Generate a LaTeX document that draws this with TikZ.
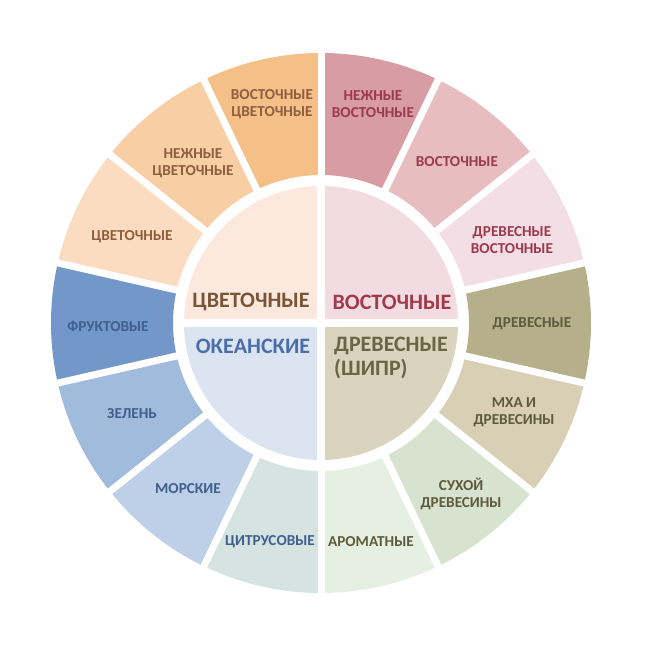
\documentclass[tikz,border=0pt]{standalone}
\usepackage{fontspec}
\setmainfont{Carlito}

\definecolor{segNvo}{HTML}{D89CA3}
\definecolor{segVo}{HTML}{E8BDC0}
\definecolor{segDvo}{HTML}{F3DEE6}
\definecolor{segDr}{HTML}{B5B08A}
\definecolor{segMdr}{HTML}{D8CFB5}
\definecolor{segSdr}{HTML}{D8E3CF}
\definecolor{segAr}{HTML}{E6F0E2}
\definecolor{segCi}{HTML}{D5E3E1}
\definecolor{segMo}{HTML}{BDD0E8}
\definecolor{segZe}{HTML}{A0BBDB}
\definecolor{segFr}{HTML}{7397C8}
\definecolor{segCv}{HTML}{FBDCC0}
\definecolor{segNcv}{HTML}{F8CEA5}
\definecolor{segVcv}{HTML}{F5BF88}
\definecolor{midCv}{HTML}{FCE8DC}
\definecolor{midVo}{HTML}{F2DCE2}
\definecolor{midOk}{HTML}{DCE4F2}
\definecolor{midDr}{HTML}{DAD3BD}
\definecolor{txtOrange}{HTML}{8E5E3E}
\definecolor{txtRose}{HTML}{9B3A4C}
\definecolor{txtOlive}{HTML}{5E5A3E}
\definecolor{txtBlue}{HTML}{3F5F8F}
\definecolor{txtMidCv}{HTML}{7A5535}
\definecolor{txtMidVo}{HTML}{A03A4C}
\definecolor{txtMidOk}{HTML}{4A6EA8}
\definecolor{txtMidDr}{HTML}{6B6448}

\begin{document}
\begin{tikzpicture}[x=1pt, y=1pt,
  gap/.style={draw=white, line width=7pt},
  outerlabel/.style={font=\fontsize{15.2}{17}\selectfont\bfseries, align=center, inner sep=0pt},
  innerlabel/.style={font=\fontsize{22}{24}\selectfont\bfseries, align=left, inner sep=0pt}
]
\useasboundingbox (-321,-327) rectangle (329,323);

\foreach \col [count=\i from 0] in {segNvo,segVo,segDvo,segDr,segMdr,segSdr,segAr,segCi,segMo,segZe,segFr,segCv,segNcv,segVcv}{
  \pgfmathsetmacro\aa{90-\i*360/14}
  \pgfmathsetmacro\ab{90-(\i+1)*360/14}
  \fill[\col] (\aa:148pt) arc[start angle=\aa, end angle=\ab, radius=148pt]
    -- (\ab:270pt) arc[start angle=\ab, end angle=\aa, radius=270pt] -- cycle;
}
\foreach \i in {0,...,13}
  \draw[gap] ({90-\i*360/14}:140pt) -- ({90-\i*360/14}:280pt);

\fill[midCv] (0,0) -- (90:137pt) arc[start angle=90, end angle=180, radius=137pt] -- cycle;
\fill[midVo] (0,0) -- (0:137pt) arc[start angle=0, end angle=90, radius=137pt] -- cycle;
\fill[midOk] (0,0) -- (180:137pt) arc[start angle=180, end angle=270, radius=137pt] -- cycle;
\fill[midDr] (0,0) -- (270:137pt) arc[start angle=270, end angle=360, radius=137pt] -- cycle;
\draw[gap, line width=8pt] (-140,0) -- (140,0);
\draw[gap, line width=8pt] (0,-140) -- (0,140);

\node[outerlabel, text=txtRose] (nvo) at (52,219) {НЕЖНЫЕ\\ВОСТОЧНЫЕ};
\node[outerlabel, text=txtRose] (vo) at (136,161) {ВОСТОЧНЫЕ};
\node[outerlabel, text=txtRose] (dvo) at (191,83) {ДРЕВЕСНЫЕ\\ВОСТОЧНЫЕ};
\node[outerlabel, text=txtOlive] (dr) at (211,-1) {ДРЕВЕСНЫЕ};
\node[outerlabel, text=txtOlive] (mdr) at (193,-89) {МХА И\\ДРЕВЕСИНЫ};
\node[outerlabel, text=txtOlive] (sdr) at (140,-171) {СУХОЙ\\ДРЕВЕСИНЫ};
\node[outerlabel, text=txtOlive] (ar) at (50,-219) {АРОМАТНЫЕ};
\node[outerlabel, text=txtBlue] (ci) at (-51,-219) {ЦИТРУСОВЫЕ};
\node[outerlabel, text=txtBlue] (mo) at (-133,-166) {МОРСКИЕ};
\node[outerlabel, text=txtBlue] (ze) at (-189,-91) {ЗЕЛЕНЬ};
\node[outerlabel, text=txtBlue] (fr) at (-213,-3) {ФРУКТОВЫЕ};
\node[outerlabel, text=txtOrange] (cv) at (-189,86) {ЦВЕТОЧНЫЕ};
\node[outerlabel, text=txtOrange] (ncv) at (-128,160) {НЕЖНЫЕ\\ЦВЕТОЧНЫЕ};
\node[outerlabel, text=txtOrange] (vcv) at (-49,219) {ВОСТОЧНЫЕ\\ЦВЕТОЧНЫЕ};

\node[innerlabel, text=txtMidCv] (mcv) at (-70,21) {ЦВЕТОЧНЫЕ};
\node[innerlabel, text=txtMidVo] (mvo) at (71,21) {ВОСТОЧНЫЕ};
\node[innerlabel, text=txtMidOk] (mok) at (-68,-23) {ОКЕАНСКИЕ};
\node[innerlabel, text=txtMidDr, anchor=west] (mdr2) at (13,-35) {ДРЕВЕСНЫЕ\\(ШИПР)};
\end{tikzpicture}
\end{document}
